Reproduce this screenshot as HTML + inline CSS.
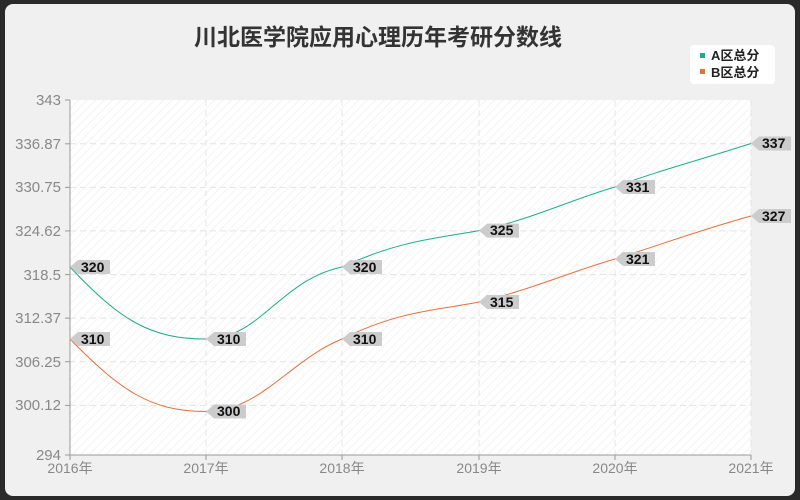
<!DOCTYPE html><html><head><style>body{margin:0;background:#333}svg{display:block}text{font-family:"Liberation Sans","Noto Sans CJK SC",sans-serif}</style></head><body>
<svg width="800" height="500" xmlns="http://www.w3.org/2000/svg">
<defs><pattern id="h" width="6" height="6" patternUnits="userSpaceOnUse" patternTransform="rotate(45)"><rect width="6" height="6" fill="#fff"/><line x1="0" y1="0" x2="0" y2="6" stroke="#f0f0f0" stroke-width="1.5"/></pattern></defs>
<rect x="0" y="0" width="800" height="500" fill="#2a2a2a"/>
<rect x="5" y="4" width="790" height="492" rx="8" fill="#f0f0f0"/>
<text x="378" y="45" font-size="23" font-weight="bold" fill="#333" text-anchor="middle">川北医学院应用心理历年考研分数线</text>
<rect x="690" y="45" width="85" height="39" rx="4" fill="#fff"/>
<rect x="700" y="53" width="5" height="5" fill="#1aaf87"/><text x="711" y="60" font-size="13" font-weight="bold" fill="#222">A区总分</text>
<rect x="700" y="69" width="5" height="5" fill="#e8703a"/><text x="711" y="77" font-size="13" font-weight="bold" fill="#222">B区总分</text>
<rect x="70" y="100" width="681" height="355" fill="url(#h)"/>
<g stroke="#e4e4e4" stroke-dasharray="6,4">
<line x1="70" y1="143.8" x2="751" y2="143.8"/><line x1="70" y1="187.4" x2="751" y2="187.4"/><line x1="70" y1="230.9" x2="751" y2="230.9"/><line x1="70" y1="274.6" x2="751" y2="274.6"/><line x1="70" y1="318.1" x2="751" y2="318.1"/><line x1="70" y1="361.7" x2="751" y2="361.7"/><line x1="70" y1="405.4" x2="751" y2="405.4"/>
<line x1="206" y1="100" x2="206" y2="455"/><line x1="342" y1="100" x2="342" y2="455"/><line x1="479" y1="100" x2="479" y2="455"/><line x1="615" y1="100" x2="615" y2="455"/><line x1="751" y1="100" x2="751" y2="455"/>
</g>
<g stroke="#999"><line x1="70" y1="100" x2="70" y2="455"/><line x1="70" y1="455" x2="751" y2="455"/>
<line x1="65" y1="100" x2="70" y2="100"/><line x1="65" y1="143.8" x2="70" y2="143.8"/><line x1="65" y1="187.4" x2="70" y2="187.4"/><line x1="65" y1="230.9" x2="70" y2="230.9"/><line x1="65" y1="274.6" x2="70" y2="274.6"/><line x1="65" y1="318.1" x2="70" y2="318.1"/><line x1="65" y1="361.7" x2="70" y2="361.7"/><line x1="65" y1="405.4" x2="70" y2="405.4"/><line x1="65" y1="455" x2="70" y2="455"/>
<line x1="70" y1="455" x2="70" y2="460"/><line x1="206" y1="455" x2="206" y2="460"/><line x1="342" y1="455" x2="342" y2="460"/><line x1="479" y1="455" x2="479" y2="460"/><line x1="615" y1="455" x2="615" y2="460"/><line x1="751" y1="455" x2="751" y2="460"/></g>
<g font-size="15" fill="#888" text-anchor="end">
<text x="61" y="105">343</text><text x="61" y="149">336.87</text><text x="61" y="192">330.75</text><text x="61" y="236">324.62</text><text x="61" y="280">318.5</text><text x="61" y="323">312.37</text><text x="61" y="367">306.25</text><text x="61" y="410">300.12</text><text x="61" y="460">294</text></g>
<g font-size="14" fill="#888" text-anchor="middle">
<text x="70" y="473">2016年</text><text x="206" y="473">2017年</text><text x="342" y="473">2018年</text><text x="479" y="473">2019年</text><text x="615" y="473">2020年</text><text x="751" y="473">2021年</text></g>
<path d="M70,267 C120,320 150,339 206,339 C260,339 280,280 342,267 C400,240 440,238 479,230.6 C530,220 570,200 615,187 C660,170 700,160 751,143.5" fill="none" stroke="#1aaf87" stroke-width="1"/>
<path d="M70,339 C120,390 150,411.5 206,411.5 C260,411.5 290,360 342,339 C400,310 440,310 479,302 C530,290 570,272 615,259 C660,245 700,230 751,216" fill="none" stroke="#e8703a" stroke-width="1"/>
<g font-size="14" font-weight="bold" fill="#111">
<g fill="#ccc"><path d="M70,267 l8,-7 h32 v14 h-32z"/><path d="M70,339 l8,-7 h32 v14 h-32z"/><path d="M206,339 l8,-7 h32 v14 h-32z"/><path d="M206,411.5 l8,-7 h32 v14 h-32z"/><path d="M342,267 l8,-7 h32 v14 h-32z"/><path d="M342,339 l8,-7 h32 v14 h-32z"/><path d="M479,230.6 l8,-7 h32 v14 h-32z"/><path d="M479,302 l8,-7 h32 v14 h-32z"/><path d="M615,187 l8,-7 h32 v14 h-32z"/><path d="M615,259 l8,-7 h32 v14 h-32z"/><path d="M751,143.5 l8,-7 h32 v14 h-32z"/><path d="M751,216 l8,-7 h32 v14 h-32z"/></g>
<text x="81" y="272">320</text><text x="81" y="344">310</text><text x="217" y="344">310</text><text x="217" y="416">300</text><text x="353" y="272">320</text><text x="353" y="344">310</text><text x="490" y="235">325</text><text x="490" y="307">315</text><text x="626" y="192">331</text><text x="626" y="264">321</text><text x="762" y="148">337</text><text x="762" y="221">327</text></g>
</svg></body></html>
